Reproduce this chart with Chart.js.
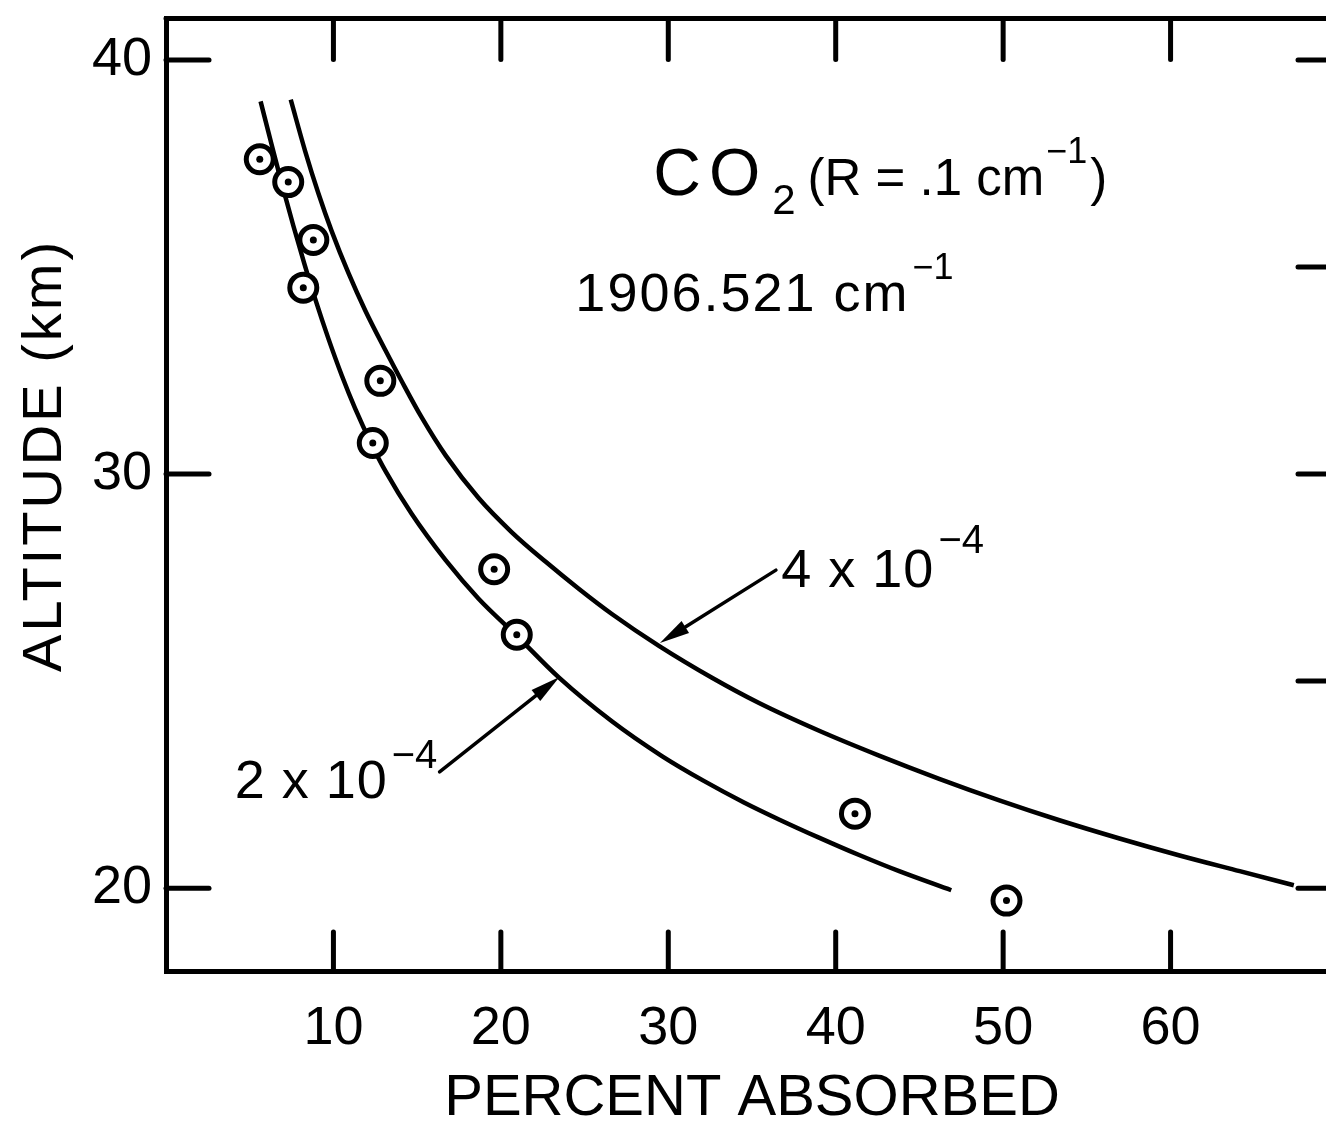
<!DOCTYPE html>
<html>
<head>
<meta charset="utf-8">
<script src="https://cdn.jsdelivr.net/npm/chart.js@4.4.1/dist/chart.umd.min.js"></script>
<style>
  html, body { margin: 0; padding: 0; background: #fff; overflow: hidden; }
  canvas { display: block; }
</style>
</head>
<body>
<canvas id="chart" width="1360" height="1128"></canvas>
<script>
// measured points (circle with dot)
const obsPercent  = [5.6, 7.3, 8.8, 8.2, 12.8, 12.35, 19.6, 20.95, 41.15, 50.2];
const obsAltitude = [37.6, 37.05, 35.65, 34.5, 32.25, 30.75, 27.7, 26.12, 21.8, 19.7];

// computed curve, 2 x 10^-4
const lowPercent  = [5.65, 6.31, 6.91, 7.61, 8.27, 8.91, 9.70, 10.50, 11.30, 12.29, 13.11, 14.67, 16.70, 18.67, 20.94, 23.46, 26.63, 29.62, 32.12, 34.52, 36.61, 39.00, 41.40, 43.79, 46.90];
const lowAltitude = [39.00, 37.95, 37.02, 35.99, 35.07, 34.23, 33.27, 32.38, 31.58, 30.71, 30.07, 29.04, 27.92, 26.99, 26.10, 25.09, 24.03, 23.19, 22.59, 22.07, 21.66, 21.22, 20.80, 20.41, 19.95];

// computed curve, 4 x 10^-4
const highPercent  = [7.45, 8.31, 9.10, 9.90, 10.90, 11.90, 13.09, 14.08, 15.28, 16.70, 18.67, 20.64, 22.68, 24.65, 26.63, 29.44, 32.61, 35.42, 39.01, 42.59, 46.18, 49.77, 53.36, 56.95, 60.54, 64.13, 67.36];
const highAltitude = [39.04, 37.80, 36.78, 35.86, 34.85, 33.95, 33.00, 32.24, 31.36, 30.45, 29.42, 28.60, 27.88, 27.23, 26.62, 25.85, 25.08, 24.47, 23.80, 23.20, 22.64, 22.12, 21.64, 21.20, 20.79, 20.41, 20.07];

// tick labels and tick marks
const xTickValues = [10, 20, 30, 40, 50, 60];
const yTickValues = [20, 30, 40];
const rightTickValues = [20, 25, 30, 35, 40];

const FONT = '"Liberation Sans", Arial, sans-serif';

function toPoints(xs, ys) {
  return xs.map((v, i) => ({ x: v, y: ys[i] }));
}

// text drawn piece by piece: [text, size, baseline shift, gap after, letter spacing]
function drawPieces(ctx, x, y, pieces) {
  pieces.forEach(p => {
    ctx.font = p[1] + 'px ' + FONT;
    ctx.letterSpacing = (p[4] || 0) + 'px';
    ctx.fillText(p[0], x, y + p[2]);
    x += ctx.measureText(p[0]).width + p[3];
  });
  ctx.letterSpacing = '0px';
}

function drawArrow(ctx, x1, y1, x2, y2) {
  const ang = Math.atan2(y2 - y1, x2 - x1);
  const len = 30, half = 7;
  const bx = x2 - len * Math.cos(ang), by = y2 - len * Math.sin(ang);
  ctx.lineWidth = 3.5;
  ctx.beginPath();
  ctx.moveTo(x1, y1);
  ctx.lineTo(bx, by);
  ctx.stroke();
  ctx.beginPath();
  ctx.moveTo(x2, y2);
  ctx.lineTo(bx + half * Math.sin(ang), by - half * Math.cos(ang));
  ctx.lineTo(bx - half * Math.sin(ang), by + half * Math.cos(ang));
  ctx.closePath();
  ctx.fill();
}

const framePlugin = {
  id: 'frame',
  afterDraw(chart) {
    const ctx = chart.ctx, a = chart.chartArea;
    const sx = chart.scales.x, sy = chart.scales.y;
    ctx.save();
    ctx.strokeStyle = '#000';
    ctx.fillStyle = '#000';
    ctx.lineCap = 'round';

    // top and right edges of the box
    ctx.lineWidth = 5;
    ctx.beginPath();
    ctx.moveTo(a.left, a.top);
    ctx.lineTo(a.right, a.top);
    ctx.lineTo(a.right, a.bottom);
    ctx.stroke();

    // inward tick marks
    const seg = (x1, y1, x2, y2) => { ctx.beginPath(); ctx.moveTo(x1, y1); ctx.lineTo(x2, y2); ctx.stroke(); };
    xTickValues.forEach(v => {
      const px = sx.getPixelForValue(v);
      seg(px, a.top, px, a.top + 41);
      seg(px, a.bottom, px, a.bottom - 39);
    });
    yTickValues.forEach(v => {
      const py = sy.getPixelForValue(v);
      seg(a.left, py, a.left + 43, py);
    });
    rightTickValues.forEach(v => {
      const py = sy.getPixelForValue(v);
      seg(a.right, py, a.right - 40, py);
    });

    // y axis title
    ctx.save();
    ctx.translate(a.left - 120, sy.getPixelForValue(30.45));
    ctx.rotate(-Math.PI / 2);
    ctx.textAlign = 'center';
    ctx.textBaseline = 'middle';
    ctx.font = '56px ' + FONT;
    ctx.letterSpacing = '3px';
    ctx.fillText('ALTITUDE (km)', 0, 0);
    ctx.restore();

    // labels inside the plot
    ctx.textAlign = 'left';
    ctx.textBaseline = 'alphabetic';
    drawPieces(ctx, sx.getPixelForValue(29.1), sy.getPixelForValue(36.75), [
      ['CO', 66, 0, 4, 8], ['2', 42, 19, 12], ['(R = .1 cm', 51, 0, 2], ['\u22121', 36, -32, 3], [')', 51, 0, 0]
    ]);
    drawPieces(ctx, sx.getPixelForValue(24.45), sy.getPixelForValue(33.93), [
      ['1906.521 cm', 54, 0, 3, 2], ['\u22121', 36, -32, 0]
    ]);
    drawPieces(ctx, sx.getPixelForValue(36.75), sy.getPixelForValue(27.27), [
      ['4 x 10', 54, 0, 4, 1], ['\u22124', 40, -34, 0]
    ]);
    drawPieces(ctx, sx.getPixelForValue(4.1), sy.getPixelForValue(22.18), [
      ['2 x 10', 54, 0, 4, 1], ['\u22124', 40, -30, 0]
    ]);

    // arrows pointing at the two curves
    drawArrow(ctx, sx.getPixelForValue(36.43), sy.getPixelForValue(27.68), sx.getPixelForValue(29.5), sy.getPixelForValue(25.92));
    drawArrow(ctx, sx.getPixelForValue(16.34), sy.getPixelForValue(22.81), sx.getPixelForValue(23.5), sy.getPixelForValue(25.1));
    ctx.restore();
  }
};

new Chart(document.getElementById('chart'), {
  type: 'scatter',
  data: {
    datasets: [
      {
        label: '2 x 10^-4',
        data: toPoints(lowPercent, lowAltitude),
        showLine: true,
        borderColor: '#000',
        borderWidth: 4.5,
        pointRadius: 0,
        cubicInterpolationMode: 'monotone',
        order: 3
      },
      {
        label: '4 x 10^-4',
        data: toPoints(highPercent, highAltitude),
        showLine: true,
        borderColor: '#000',
        borderWidth: 4.5,
        pointRadius: 0,
        cubicInterpolationMode: 'monotone',
        order: 3
      },
      {
        label: 'measured',
        data: toPoints(obsPercent, obsAltitude),
        pointRadius: 13.5,
        pointBorderWidth: 5,
        pointBackgroundColor: '#fff',
        pointBorderColor: '#000',
        order: 2
      },
      {
        label: 'measured centre',
        data: toPoints(obsPercent, obsAltitude),
        pointRadius: 3.5,
        pointBorderWidth: 0,
        pointBackgroundColor: '#000',
        order: 1
      }
    ]
  },
  options: {
    responsive: false,
    animation: false,
    events: [],
    layout: { padding: { top: 14, right: 22, left: 0, bottom: 0 } },
    plugins: { legend: { display: false }, tooltip: { enabled: false } },
    scales: {
      x: {
        type: 'linear',
        min: 0,
        max: 70,
        afterFit: s => { s.height = 157; s.paddingLeft = 0; s.paddingRight = 0; },
        grid: { display: false, drawTicks: false },
        border: { display: true, color: '#000', width: 5 },
        ticks: {
          stepSize: 10,
          padding: 26,
          color: '#000',
          maxRotation: 0,
          font: { family: FONT, size: 54 },
          callback: v => xTickValues.includes(v) ? String(v) : ''
        },
        title: {
          display: true,
          text: 'PERCENT ABSORBED',
          color: '#000',
          font: { family: FONT, size: 58, lineHeight: 1 },
          padding: 0
        }
      },
      y: {
        type: 'linear',
        min: 18,
        max: 41,
        afterFit: s => { s.width = 166; s.paddingTop = 0; s.paddingBottom = 0; },
        afterBuildTicks: s => { s.ticks = yTickValues.map(v => ({ value: v })); },
        grid: { display: false, drawTicks: false },
        border: { display: true, color: '#000', width: 5 },
        ticks: {
          padding: 14,
          color: '#000',
          font: { family: FONT, size: 54 }
        }
      }
    }
  },
  plugins: [framePlugin]
});
</script>
</body>
</html>
